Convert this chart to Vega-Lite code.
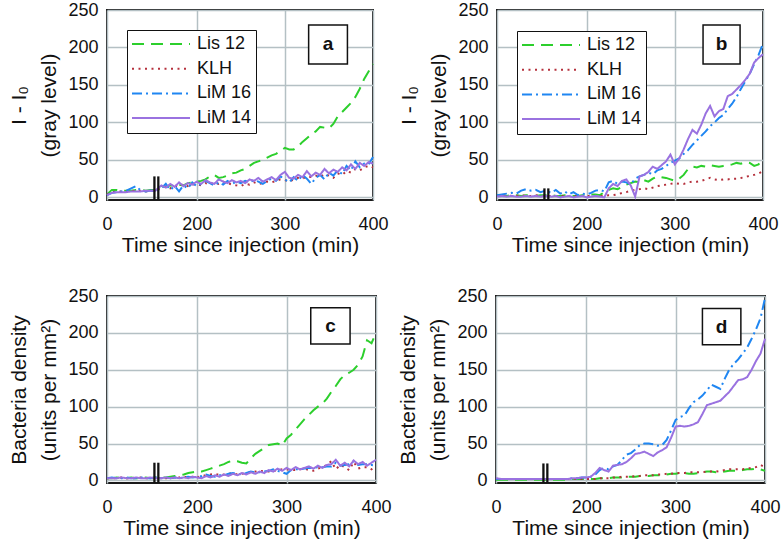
{
  "$schema": "https://vega.github.io/schema/vega-lite/v6.json",
  "padding": {"left": 7, "top": 0, "right": 2, "bottom": 0},
  "background": "white",
  "config": {
    "font": "Liberation Sans",
    "view": {"stroke": "#1a1a1a", "strokeWidth": 2},
    "axis": {"labelFont": "Liberation Sans", "labelFontSize": 18, "labelColor": "#111", "titleFont": "Liberation Sans", "titleFontSize": 21, "titleFontWeight": "normal", "titleColor": "#111", "gridColor": "#b4c0c4", "gridWidth": 1.5, "gridOpacity": 1, "domain": false, "ticks": false, "labelOverlap": false, "labelFlush": false},
    "axisX": {"labelPadding": 15.5, "titlePadding": 1},
    "axisY": {"labelPadding": 9, "titlePadding": 8, "titleLineHeight": 30},
    "legend": {"orient": "none", "legendX": 20, "legendY": 20, "title": null, "strokeColor": "#111", "fillColor": "white", "padding": 4, "labelFont": "Liberation Sans", "labelFontSize": 18, "labelColor": "#111", "symbolSize": 3364, "symbolStrokeWidth": 2, "symbolType": "stroke", "clipHeight": 20, "rowPadding": 4.7, "labelOffset": 6}
  },
  "datasets": {
    "curves": [
      {"p":"a","t":0,"Lis 12":4,"KLH":4,"LiM 16":3,"LiM 14":3},
      {"p":"a","t":15,"Lis 12":10,"KLH":7,"LiM 16":6,"LiM 14":6},
      {"p":"a","t":30,"Lis 12":10,"KLH":8,"LiM 16":7,"LiM 14":7},
      {"p":"a","t":45,"Lis 12":9,"KLH":8,"LiM 16":8,"LiM 14":7},
      {"p":"a","t":60,"Lis 12":9,"KLH":8,"LiM 16":9,"LiM 14":7},
      {"p":"a","t":75,"Lis 12":9,"KLH":9,"LiM 16":12,"LiM 14":8},
      {"p":"a","t":90,"Lis 12":10,"KLH":8,"LiM 16":15,"LiM 14":8},
      {"p":"a","t":105,"Lis 12":10,"KLH":9,"LiM 16":9,"LiM 14":8},
      {"p":"a","t":120,"Lis 12":9,"KLH":8,"LiM 16":8,"LiM 14":9},
      {"p":"a","t":135,"Lis 12":10,"KLH":9,"LiM 16":9,"LiM 14":9},
      {"p":"a","t":150,"Lis 12":10,"KLH":9,"LiM 16":8,"LiM 14":9},
      {"p":"a","t":160,"Lis 12":15,"KLH":13,"LiM 16":12,"LiM 14":16},
      {"p":"a","t":165,"Lis 12":14,"KLH":15,"LiM 16":18,"LiM 14":13},
      {"p":"a","t":170,"Lis 12":16,"KLH":12,"LiM 16":10,"LiM 14":18},
      {"p":"a","t":175,"Lis 12":15,"KLH":16,"LiM 16":15,"LiM 14":14},
      {"p":"a","t":180,"Lis 12":17,"KLH":14,"LiM 16":8,"LiM 14":20},
      {"p":"a","t":185,"Lis 12":16,"KLH":18,"LiM 16":16,"LiM 14":15},
      {"p":"a","t":190,"Lis 12":19,"KLH":15,"LiM 16":12,"LiM 14":19},
      {"p":"a","t":195,"Lis 12":20,"KLH":17,"LiM 16":20,"LiM 14":17},
      {"p":"a","t":200,"Lis 12":21,"KLH":18,"LiM 16":15,"LiM 14":21},
      {"p":"a","t":205,"Lis 12":22,"KLH":16,"LiM 16":18,"LiM 14":18},
      {"p":"a","t":210,"Lis 12":24,"KLH":19,"LiM 16":22,"LiM 14":23},
      {"p":"a","t":215,"Lis 12":28,"KLH":17,"LiM 16":19,"LiM 14":20},
      {"p":"a","t":220,"Lis 12":30,"KLH":20,"LiM 16":16,"LiM 14":18},
      {"p":"a","t":225,"Lis 12":26,"KLH":18,"LiM 16":20,"LiM 14":24},
      {"p":"a","t":230,"Lis 12":27,"KLH":21,"LiM 16":17,"LiM 14":21},
      {"p":"a","t":235,"Lis 12":29,"KLH":19,"LiM 16":22,"LiM 14":19},
      {"p":"a","t":240,"Lis 12":32,"KLH":17,"LiM 16":18,"LiM 14":23},
      {"p":"a","t":245,"Lis 12":33,"KLH":16,"LiM 16":21,"LiM 14":20},
      {"p":"a","t":250,"Lis 12":36,"KLH":15,"LiM 16":19,"LiM 14":22},
      {"p":"a","t":255,"Lis 12":38,"KLH":18,"LiM 16":22,"LiM 14":19},
      {"p":"a","t":260,"Lis 12":42,"KLH":17,"LiM 16":20,"LiM 14":24},
      {"p":"a","t":265,"Lis 12":46,"KLH":20,"LiM 16":23,"LiM 14":22},
      {"p":"a","t":270,"Lis 12":48,"KLH":18,"LiM 16":21,"LiM 14":26},
      {"p":"a","t":275,"Lis 12":50,"KLH":19,"LiM 16":18,"LiM 14":21},
      {"p":"a","t":280,"Lis 12":53,"KLH":21,"LiM 16":22,"LiM 14":24},
      {"p":"a","t":285,"Lis 12":56,"KLH":20,"LiM 16":25,"LiM 14":27},
      {"p":"a","t":290,"Lis 12":58,"KLH":22,"LiM 16":22,"LiM 14":23},
      {"p":"a","t":295,"Lis 12":62,"KLH":24,"LiM 16":28,"LiM 14":30},
      {"p":"a","t":300,"Lis 12":66,"KLH":23,"LiM 16":24,"LiM 14":34},
      {"p":"a","t":305,"Lis 12":64,"KLH":21,"LiM 16":20,"LiM 14":26},
      {"p":"a","t":310,"Lis 12":64,"KLH":24,"LiM 16":27,"LiM 14":25},
      {"p":"a","t":315,"Lis 12":68,"KLH":26,"LiM 16":22,"LiM 14":30},
      {"p":"a","t":320,"Lis 12":74,"KLH":25,"LiM 16":30,"LiM 14":27},
      {"p":"a","t":325,"Lis 12":79,"KLH":28,"LiM 16":25,"LiM 14":35},
      {"p":"a","t":330,"Lis 12":84,"KLH":27,"LiM 16":18,"LiM 14":28},
      {"p":"a","t":335,"Lis 12":88,"KLH":29,"LiM 16":26,"LiM 14":33},
      {"p":"a","t":340,"Lis 12":94,"KLH":27,"LiM 16":30,"LiM 14":30},
      {"p":"a","t":345,"Lis 12":93,"KLH":31,"LiM 16":24,"LiM 14":38},
      {"p":"a","t":350,"Lis 12":92,"KLH":29,"LiM 16":33,"LiM 14":32},
      {"p":"a","t":355,"Lis 12":98,"KLH":26,"LiM 16":29,"LiM 14":37},
      {"p":"a","t":360,"Lis 12":108,"KLH":32,"LiM 16":36,"LiM 14":34},
      {"p":"a","t":365,"Lis 12":114,"KLH":30,"LiM 16":31,"LiM 14":40},
      {"p":"a","t":370,"Lis 12":120,"KLH":35,"LiM 16":42,"LiM 14":36},
      {"p":"a","t":375,"Lis 12":126,"KLH":33,"LiM 16":36,"LiM 14":44},
      {"p":"a","t":380,"Lis 12":134,"KLH":38,"LiM 16":48,"LiM 14":38},
      {"p":"a","t":385,"Lis 12":145,"KLH":36,"LiM 16":40,"LiM 14":46},
      {"p":"a","t":390,"Lis 12":158,"KLH":40,"LiM 16":45,"LiM 14":42},
      {"p":"a","t":395,"Lis 12":168,"KLH":42,"LiM 16":44,"LiM 14":47},
      {"p":"a","t":400,"Lis 12":178,"KLH":40,"LiM 16":54,"LiM 14":45},

      {"p":"b","t":0,"Lis 12":3,"KLH":2,"LiM 16":3,"LiM 14":1},
      {"p":"b","t":15,"Lis 12":3,"KLH":2,"LiM 16":4,"LiM 14":2},
      {"p":"b","t":30,"Lis 12":2,"KLH":3,"LiM 16":5,"LiM 14":1},
      {"p":"b","t":45,"Lis 12":3,"KLH":2,"LiM 16":6,"LiM 14":2},
      {"p":"b","t":60,"Lis 12":3,"KLH":2,"LiM 16":5,"LiM 14":1},
      {"p":"b","t":75,"Lis 12":2,"KLH":3,"LiM 16":9,"LiM 14":1},
      {"p":"b","t":90,"Lis 12":3,"KLH":2,"LiM 16":11,"LiM 14":2},
      {"p":"b","t":105,"Lis 12":3,"KLH":2,"LiM 16":9,"LiM 14":1},
      {"p":"b","t":120,"Lis 12":2,"KLH":3,"LiM 16":10,"LiM 14":2},
      {"p":"b","t":135,"Lis 12":3,"KLH":2,"LiM 16":7,"LiM 14":1},
      {"p":"b","t":150,"Lis 12":3,"KLH":2,"LiM 16":9,"LiM 14":2},
      {"p":"b","t":160,"Lis 12":3,"KLH":2,"LiM 16":6,"LiM 14":1},
      {"p":"b","t":165,"Lis 12":2,"KLH":2,"LiM 16":10,"LiM 14":2},
      {"p":"b","t":170,"Lis 12":2,"KLH":2,"LiM 16":5,"LiM 14":0},
      {"p":"b","t":175,"Lis 12":3,"KLH":2,"LiM 16":8,"LiM 14":1},
      {"p":"b","t":180,"Lis 12":3,"KLH":2,"LiM 16":4,"LiM 14":2},
      {"p":"b","t":185,"Lis 12":2,"KLH":2,"LiM 16":7,"LiM 14":0},
      {"p":"b","t":190,"Lis 12":2,"KLH":2,"LiM 16":3,"LiM 14":1},
      {"p":"b","t":195,"Lis 12":3,"KLH":2,"LiM 16":5,"LiM 14":2},
      {"p":"b","t":200,"Lis 12":3,"KLH":2,"LiM 16":4,"LiM 14":0},
      {"p":"b","t":205,"Lis 12":4,"KLH":2,"LiM 16":6,"LiM 14":1},
      {"p":"b","t":210,"Lis 12":4,"KLH":2,"LiM 16":9,"LiM 14":2},
      {"p":"b","t":215,"Lis 12":3,"KLH":2,"LiM 16":10,"LiM 14":1},
      {"p":"b","t":220,"Lis 12":7,"KLH":2,"LiM 16":8,"LiM 14":0},
      {"p":"b","t":225,"Lis 12":10,"KLH":3,"LiM 16":20,"LiM 14":12},
      {"p":"b","t":230,"Lis 12":12,"KLH":3,"LiM 16":22,"LiM 14":18},
      {"p":"b","t":235,"Lis 12":11,"KLH":4,"LiM 16":18,"LiM 14":15},
      {"p":"b","t":240,"Lis 12":14,"KLH":6,"LiM 16":21,"LiM 14":22},
      {"p":"b","t":245,"Lis 12":17,"KLH":7,"LiM 16":20,"LiM 14":24},
      {"p":"b","t":250,"Lis 12":19,"KLH":9,"LiM 16":17,"LiM 14":16},
      {"p":"b","t":255,"Lis 12":21,"KLH":10,"LiM 16":25,"LiM 14":1},
      {"p":"b","t":260,"Lis 12":20,"KLH":11,"LiM 16":28,"LiM 14":28},
      {"p":"b","t":265,"Lis 12":23,"KLH":12,"LiM 16":30,"LiM 14":30},
      {"p":"b","t":270,"Lis 12":21,"KLH":11,"LiM 16":33,"LiM 14":34},
      {"p":"b","t":275,"Lis 12":25,"KLH":13,"LiM 16":31,"LiM 14":41},
      {"p":"b","t":280,"Lis 12":28,"KLH":15,"LiM 16":36,"LiM 14":38},
      {"p":"b","t":285,"Lis 12":27,"KLH":16,"LiM 16":38,"LiM 14":43},
      {"p":"b","t":290,"Lis 12":26,"KLH":17,"LiM 16":42,"LiM 14":48},
      {"p":"b","t":295,"Lis 12":24,"KLH":18,"LiM 16":46,"LiM 14":57},
      {"p":"b","t":300,"Lis 12":22,"KLH":19,"LiM 16":49,"LiM 14":44},
      {"p":"b","t":305,"Lis 12":25,"KLH":18,"LiM 16":52,"LiM 14":52},
      {"p":"b","t":310,"Lis 12":30,"KLH":18,"LiM 16":58,"LiM 14":64},
      {"p":"b","t":315,"Lis 12":38,"KLH":20,"LiM 16":63,"LiM 14":78},
      {"p":"b","t":320,"Lis 12":41,"KLH":21,"LiM 16":70,"LiM 14":90},
      {"p":"b","t":325,"Lis 12":40,"KLH":21,"LiM 16":76,"LiM 14":85},
      {"p":"b","t":330,"Lis 12":42,"KLH":22,"LiM 16":82,"LiM 14":97},
      {"p":"b","t":335,"Lis 12":41,"KLH":24,"LiM 16":88,"LiM 14":112},
      {"p":"b","t":340,"Lis 12":43,"KLH":26,"LiM 16":95,"LiM 14":122},
      {"p":"b","t":345,"Lis 12":42,"KLH":24,"LiM 16":100,"LiM 14":108},
      {"p":"b","t":350,"Lis 12":41,"KLH":23,"LiM 16":106,"LiM 14":115},
      {"p":"b","t":355,"Lis 12":42,"KLH":24,"LiM 16":110,"LiM 14":118},
      {"p":"b","t":360,"Lis 12":43,"KLH":24,"LiM 16":118,"LiM 14":135},
      {"p":"b","t":365,"Lis 12":44,"KLH":25,"LiM 16":125,"LiM 14":138},
      {"p":"b","t":370,"Lis 12":46,"KLH":25,"LiM 16":134,"LiM 14":144},
      {"p":"b","t":375,"Lis 12":45,"KLH":26,"LiM 16":145,"LiM 14":150},
      {"p":"b","t":380,"Lis 12":47,"KLH":27,"LiM 16":155,"LiM 14":157},
      {"p":"b","t":385,"Lis 12":46,"KLH":29,"LiM 16":165,"LiM 14":165},
      {"p":"b","t":390,"Lis 12":42,"KLH":30,"LiM 16":178,"LiM 14":180},
      {"p":"b","t":395,"Lis 12":44,"KLH":32,"LiM 16":190,"LiM 14":186},
      {"p":"b","t":400,"Lis 12":52,"KLH":35,"LiM 16":205,"LiM 14":191},

      {"p":"c","t":0,"Lis 12":3,"KLH":3,"LiM 16":3,"LiM 14":3},
      {"p":"c","t":15,"Lis 12":3,"KLH":3,"LiM 16":4,"LiM 14":3},
      {"p":"c","t":30,"Lis 12":4,"KLH":3,"LiM 16":3,"LiM 14":3},
      {"p":"c","t":45,"Lis 12":3,"KLH":4,"LiM 16":3,"LiM 14":4},
      {"p":"c","t":60,"Lis 12":3,"KLH":3,"LiM 16":4,"LiM 14":3},
      {"p":"c","t":75,"Lis 12":4,"KLH":3,"LiM 16":3,"LiM 14":3},
      {"p":"c","t":90,"Lis 12":3,"KLH":3,"LiM 16":3,"LiM 14":4},
      {"p":"c","t":105,"Lis 12":3,"KLH":4,"LiM 16":4,"LiM 14":3},
      {"p":"c","t":120,"Lis 12":4,"KLH":3,"LiM 16":3,"LiM 14":3},
      {"p":"c","t":135,"Lis 12":3,"KLH":3,"LiM 16":3,"LiM 14":4},
      {"p":"c","t":150,"Lis 12":4,"KLH":3,"LiM 16":4,"LiM 14":3},
      {"p":"c","t":160,"Lis 12":4,"KLH":3,"LiM 16":3,"LiM 14":3},
      {"p":"c","t":165,"Lis 12":4,"KLH":3,"LiM 16":4,"LiM 14":4},
      {"p":"c","t":170,"Lis 12":5,"KLH":4,"LiM 16":3,"LiM 14":3},
      {"p":"c","t":175,"Lis 12":6,"KLH":3,"LiM 16":4,"LiM 14":4},
      {"p":"c","t":180,"Lis 12":7,"KLH":4,"LiM 16":3,"LiM 14":3},
      {"p":"c","t":185,"Lis 12":8,"KLH":5,"LiM 16":4,"LiM 14":4},
      {"p":"c","t":190,"Lis 12":10,"KLH":4,"LiM 16":5,"LiM 14":3},
      {"p":"c","t":195,"Lis 12":11,"KLH":5,"LiM 16":4,"LiM 14":5},
      {"p":"c","t":200,"Lis 12":12,"KLH":4,"LiM 16":5,"LiM 14":4},
      {"p":"c","t":205,"Lis 12":12,"KLH":6,"LiM 16":6,"LiM 14":3},
      {"p":"c","t":210,"Lis 12":14,"KLH":7,"LiM 16":8,"LiM 14":6},
      {"p":"c","t":215,"Lis 12":16,"KLH":8,"LiM 16":6,"LiM 14":4},
      {"p":"c","t":220,"Lis 12":18,"KLH":9,"LiM 16":5,"LiM 14":7},
      {"p":"c","t":225,"Lis 12":20,"KLH":7,"LiM 16":7,"LiM 14":5},
      {"p":"c","t":230,"Lis 12":22,"KLH":8,"LiM 16":7,"LiM 14":8},
      {"p":"c","t":235,"Lis 12":25,"KLH":9,"LiM 16":9,"LiM 14":6},
      {"p":"c","t":240,"Lis 12":27,"KLH":10,"LiM 16":10,"LiM 14":9},
      {"p":"c","t":245,"Lis 12":26,"KLH":8,"LiM 16":9,"LiM 14":7},
      {"p":"c","t":250,"Lis 12":24,"KLH":9,"LiM 16":8,"LiM 14":10},
      {"p":"c","t":255,"Lis 12":23,"KLH":10,"LiM 16":10,"LiM 14":8},
      {"p":"c","t":260,"Lis 12":30,"KLH":11,"LiM 16":12,"LiM 14":11},
      {"p":"c","t":265,"Lis 12":36,"KLH":12,"LiM 16":11,"LiM 14":9},
      {"p":"c","t":270,"Lis 12":40,"KLH":13,"LiM 16":11,"LiM 14":12},
      {"p":"c","t":275,"Lis 12":44,"KLH":12,"LiM 16":12,"LiM 14":10},
      {"p":"c","t":280,"Lis 12":48,"KLH":12,"LiM 16":13,"LiM 14":14},
      {"p":"c","t":285,"Lis 12":49,"KLH":13,"LiM 16":15,"LiM 14":12},
      {"p":"c","t":290,"Lis 12":50,"KLH":14,"LiM 16":13,"LiM 14":16},
      {"p":"c","t":295,"Lis 12":47,"KLH":15,"LiM 16":11,"LiM 14":13},
      {"p":"c","t":300,"Lis 12":57,"KLH":15,"LiM 16":9,"LiM 14":17},
      {"p":"c","t":305,"Lis 12":62,"KLH":14,"LiM 16":14,"LiM 14":14},
      {"p":"c","t":310,"Lis 12":69,"KLH":14,"LiM 16":15,"LiM 14":18},
      {"p":"c","t":315,"Lis 12":76,"KLH":15,"LiM 16":15,"LiM 14":15},
      {"p":"c","t":320,"Lis 12":83,"KLH":16,"LiM 16":16,"LiM 14":17},
      {"p":"c","t":325,"Lis 12":89,"KLH":14,"LiM 16":17,"LiM 14":19},
      {"p":"c","t":330,"Lis 12":95,"KLH":13,"LiM 16":17,"LiM 14":16},
      {"p":"c","t":335,"Lis 12":100,"KLH":16,"LiM 16":18,"LiM 14":20},
      {"p":"c","t":340,"Lis 12":104,"KLH":18,"LiM 16":18,"LiM 14":17},
      {"p":"c","t":345,"Lis 12":111,"KLH":21,"LiM 16":19,"LiM 14":21},
      {"p":"c","t":350,"Lis 12":120,"KLH":26,"LiM 16":19,"LiM 14":22},
      {"p":"c","t":355,"Lis 12":128,"KLH":15,"LiM 16":24,"LiM 14":28},
      {"p":"c","t":360,"Lis 12":137,"KLH":21,"LiM 16":20,"LiM 14":20},
      {"p":"c","t":365,"Lis 12":143,"KLH":18,"LiM 16":21,"LiM 14":24},
      {"p":"c","t":370,"Lis 12":146,"KLH":14,"LiM 16":22,"LiM 14":19},
      {"p":"c","t":375,"Lis 12":150,"KLH":25,"LiM 16":26,"LiM 14":27},
      {"p":"c","t":380,"Lis 12":157,"KLH":16,"LiM 16":21,"LiM 14":22},
      {"p":"c","t":385,"Lis 12":168,"KLH":18,"LiM 16":22,"LiM 14":25},
      {"p":"c","t":390,"Lis 12":190,"KLH":18,"LiM 16":22,"LiM 14":20},
      {"p":"c","t":395,"Lis 12":186,"KLH":15,"LiM 16":21,"LiM 14":24},
      {"p":"c","t":400,"Lis 12":200,"KLH":19,"LiM 16":20,"LiM 14":28},

      {"p":"d","t":0,"Lis 12":1,"KLH":2,"LiM 16":2,"LiM 14":3},
      {"p":"d","t":15,"Lis 12":1,"KLH":2,"LiM 16":2,"LiM 14":2},
      {"p":"d","t":30,"Lis 12":1,"KLH":2,"LiM 16":2,"LiM 14":2},
      {"p":"d","t":45,"Lis 12":1,"KLH":2,"LiM 16":2,"LiM 14":2},
      {"p":"d","t":60,"Lis 12":1,"KLH":2,"LiM 16":2,"LiM 14":2},
      {"p":"d","t":75,"Lis 12":1,"KLH":2,"LiM 16":2,"LiM 14":2},
      {"p":"d","t":90,"Lis 12":1,"KLH":2,"LiM 16":2,"LiM 14":2},
      {"p":"d","t":105,"Lis 12":1,"KLH":2,"LiM 16":2,"LiM 14":2},
      {"p":"d","t":120,"Lis 12":1,"KLH":2,"LiM 16":2,"LiM 14":2},
      {"p":"d","t":135,"Lis 12":1,"KLH":2,"LiM 16":2,"LiM 14":2},
      {"p":"d","t":150,"Lis 12":1,"KLH":2,"LiM 16":2,"LiM 14":2},
      {"p":"d","t":160,"Lis 12":1,"KLH":2,"LiM 16":2,"LiM 14":2},
      {"p":"d","t":165,"Lis 12":1,"KLH":2,"LiM 16":2,"LiM 14":2},
      {"p":"d","t":170,"Lis 12":1,"KLH":2,"LiM 16":2,"LiM 14":2},
      {"p":"d","t":175,"Lis 12":1,"KLH":2,"LiM 16":2,"LiM 14":2},
      {"p":"d","t":180,"Lis 12":1,"KLH":2,"LiM 16":2,"LiM 14":2},
      {"p":"d","t":185,"Lis 12":2,"KLH":2,"LiM 16":3,"LiM 14":3},
      {"p":"d","t":190,"Lis 12":2,"KLH":2,"LiM 16":3,"LiM 14":3},
      {"p":"d","t":195,"Lis 12":2,"KLH":2,"LiM 16":4,"LiM 14":4},
      {"p":"d","t":200,"Lis 12":2,"KLH":2,"LiM 16":4,"LiM 14":4},
      {"p":"d","t":205,"Lis 12":2,"KLH":2,"LiM 16":5,"LiM 14":5},
      {"p":"d","t":210,"Lis 12":2,"KLH":2,"LiM 16":8,"LiM 14":10},
      {"p":"d","t":215,"Lis 12":3,"KLH":3,"LiM 16":14,"LiM 14":17},
      {"p":"d","t":220,"Lis 12":3,"KLH":3,"LiM 16":17,"LiM 14":14},
      {"p":"d","t":225,"Lis 12":3,"KLH":3,"LiM 16":15,"LiM 14":12},
      {"p":"d","t":230,"Lis 12":4,"KLH":4,"LiM 16":19,"LiM 14":20},
      {"p":"d","t":235,"Lis 12":4,"KLH":4,"LiM 16":21,"LiM 14":21},
      {"p":"d","t":240,"Lis 12":4,"KLH":5,"LiM 16":28,"LiM 14":22},
      {"p":"d","t":245,"Lis 12":5,"KLH":5,"LiM 16":35,"LiM 14":25},
      {"p":"d","t":250,"Lis 12":5,"KLH":5,"LiM 16":37,"LiM 14":30},
      {"p":"d","t":255,"Lis 12":5,"KLH":6,"LiM 16":42,"LiM 14":36},
      {"p":"d","t":260,"Lis 12":6,"KLH":6,"LiM 16":48,"LiM 14":37},
      {"p":"d","t":265,"Lis 12":6,"KLH":7,"LiM 16":50,"LiM 14":39},
      {"p":"d","t":270,"Lis 12":6,"KLH":7,"LiM 16":50,"LiM 14":36},
      {"p":"d","t":275,"Lis 12":7,"KLH":7,"LiM 16":49,"LiM 14":33},
      {"p":"d","t":280,"Lis 12":7,"KLH":8,"LiM 16":47,"LiM 14":38},
      {"p":"d","t":285,"Lis 12":7,"KLH":8,"LiM 16":48,"LiM 14":41},
      {"p":"d","t":290,"Lis 12":8,"KLH":9,"LiM 16":55,"LiM 14":45},
      {"p":"d","t":295,"Lis 12":9,"KLH":9,"LiM 16":68,"LiM 14":58},
      {"p":"d","t":300,"Lis 12":9,"KLH":10,"LiM 16":82,"LiM 14":73},
      {"p":"d","t":305,"Lis 12":10,"KLH":10,"LiM 16":86,"LiM 14":74},
      {"p":"d","t":310,"Lis 12":10,"KLH":10,"LiM 16":88,"LiM 14":73},
      {"p":"d","t":315,"Lis 12":9,"KLH":11,"LiM 16":98,"LiM 14":74},
      {"p":"d","t":320,"Lis 12":9,"KLH":11,"LiM 16":106,"LiM 14":76},
      {"p":"d","t":325,"Lis 12":10,"KLH":11,"LiM 16":110,"LiM 14":79},
      {"p":"d","t":330,"Lis 12":11,"KLH":11,"LiM 16":115,"LiM 14":90},
      {"p":"d","t":335,"Lis 12":12,"KLH":12,"LiM 16":122,"LiM 14":102},
      {"p":"d","t":340,"Lis 12":12,"KLH":12,"LiM 16":130,"LiM 14":104},
      {"p":"d","t":345,"Lis 12":11,"KLH":12,"LiM 16":127,"LiM 14":106},
      {"p":"d","t":350,"Lis 12":11,"KLH":13,"LiM 16":124,"LiM 14":108},
      {"p":"d","t":355,"Lis 12":12,"KLH":14,"LiM 16":138,"LiM 14":114},
      {"p":"d","t":360,"Lis 12":13,"KLH":15,"LiM 16":150,"LiM 14":120},
      {"p":"d","t":365,"Lis 12":13,"KLH":15,"LiM 16":158,"LiM 14":128},
      {"p":"d","t":370,"Lis 12":13,"KLH":15,"LiM 16":164,"LiM 14":136},
      {"p":"d","t":375,"Lis 12":14,"KLH":15,"LiM 16":172,"LiM 14":137},
      {"p":"d","t":380,"Lis 12":15,"KLH":16,"LiM 16":180,"LiM 14":140},
      {"p":"d","t":385,"Lis 12":15,"KLH":17,"LiM 16":192,"LiM 14":150},
      {"p":"d","t":390,"Lis 12":16,"KLH":18,"LiM 16":205,"LiM 14":162},
      {"p":"d","t":395,"Lis 12":15,"KLH":21,"LiM 16":220,"LiM 14":172},
      {"p":"d","t":400,"Lis 12":13,"KLH":18,"LiM 16":247,"LiM 14":192}
    ]
  },
  "vconcat": [
    {
      "hconcat": [
        {
          "width": 266, "height": 190,
          "layer": [
            {
              "data": {"name": "curves"},
              "transform": [{"filter": "datum.p === 'a'"}, {"fold": ["Lis 12", "KLH", "LiM 16", "LiM 14"], "as": ["s", "v"]}],
              "mark": {"type": "line", "strokeWidth": 2},
              "encoding": {
                "x": {"field": "t", "type": "quantitative", "scale": {"domain": [0, 155, 400], "range": [0, 50, 266], "nice": false, "zero": false}, "axis": {"values": [0, 200, 300, 400], "title": "Time since injection (min)"}},
                "y": {"field": "v", "type": "quantitative", "scale": {"domain": [-3.5, 250], "nice": false, "zero": false}, "axis": {"values": [0, 50, 100, 150, 200, 250], "tickCount": 6, "title": ["I - I₀", "(gray level)"]}},
                "color": {"field": "s", "type": "nominal", "scale": {"domain": ["Lis 12", "KLH", "LiM 16", "LiM 14"], "range": ["#2ccf2c", "#b5303c", "#1f86f2", "#9a72e0"]}, "legend": {"legendX": 20, "legendY": 20}},
                "strokeDash": {"field": "s", "type": "nominal", "scale": {"domain": ["Lis 12", "KLH", "LiM 16", "LiM 14"], "range": [[12, 7], [2, 4.5], [10, 4, 2, 4], [1, 0]]}, "legend": {"legendX": 20, "legendY": 20}}
              }
            },
            {"data": {"values": [{}]}, "mark": {"type": "rule", "color": "#111", "strokeWidth": 2.3}, "encoding": {"x": {"datum": 147, "type": "quantitative"}, "y": {"datum": -3.5, "type": "quantitative"}, "y2": {"datum": 28}}},
            {"data": {"values": [{}]}, "mark": {"type": "rule", "color": "#111", "strokeWidth": 2.3}, "encoding": {"x": {"datum": 156.5, "type": "quantitative"}, "y": {"datum": -3.5, "type": "quantitative"}, "y2": {"datum": 28}}},
            {"data": {"values": [{"label": "a"}]}, "mark": {"type": "rect", "fill": "white", "stroke": "#111", "strokeWidth": 1.5}, "encoding": {"x": {"datum": 327, "type": "quantitative"}, "x2": {"datum": 371}, "y": {"datum": 178, "type": "quantitative"}, "y2": {"datum": 230}}},
            {"data": {"values": [{"label": "a"}]}, "mark": {"type": "text", "fontSize": 19, "fontWeight": "bold", "color": "#111"}, "encoding": {"text": {"field": "label"}, "x": {"datum": 349, "type": "quantitative"}, "y": {"datum": 204, "type": "quantitative"}}}
          ],
          "resolve": {"scale": {"color": "independent", "strokeDash": "independent"}}
        },
        {
          "width": 266, "height": 190,
          "layer": [
            {
              "data": {"name": "curves"},
              "transform": [{"filter": "datum.p === 'b'"}, {"fold": ["Lis 12", "KLH", "LiM 16", "LiM 14"], "as": ["s", "v"]}],
              "mark": {"type": "line", "strokeWidth": 2},
              "encoding": {
                "x": {"field": "t", "type": "quantitative", "scale": {"domain": [0, 155, 400], "range": [0, 50, 266], "nice": false, "zero": false}, "axis": {"values": [0, 200, 300, 400], "title": "Time since injection (min)"}},
                "y": {"field": "v", "type": "quantitative", "scale": {"domain": [-3.5, 250], "nice": false, "zero": false}, "axis": {"values": [0, 50, 100, 150, 200, 250], "tickCount": 6, "title": ["I - I₀", "(gray level)"]}},
                "color": {"field": "s", "type": "nominal", "scale": {"domain": ["Lis 12", "KLH", "LiM 16", "LiM 14"], "range": ["#2ccf2c", "#b5303c", "#1f86f2", "#9a72e0"]}, "legend": {"legendX": 20, "legendY": 21}},
                "strokeDash": {"field": "s", "type": "nominal", "scale": {"domain": ["Lis 12", "KLH", "LiM 16", "LiM 14"], "range": [[12, 7], [2, 4.5], [10, 4, 2, 4], [1, 0]]}, "legend": {"legendX": 20, "legendY": 21}}
              }
            },
            {"data": {"values": [{}]}, "mark": {"type": "rule", "color": "#111", "strokeWidth": 2.3}, "encoding": {"x": {"datum": 147, "type": "quantitative"}, "y": {"datum": -3.5, "type": "quantitative"}, "y2": {"datum": 12}}},
            {"data": {"values": [{}]}, "mark": {"type": "rule", "color": "#111", "strokeWidth": 2.3}, "encoding": {"x": {"datum": 156.5, "type": "quantitative"}, "y": {"datum": -3.5, "type": "quantitative"}, "y2": {"datum": 12}}},
            {"data": {"values": [{"label": "b"}]}, "mark": {"type": "rect", "fill": "white", "stroke": "#111", "strokeWidth": 1.5}, "encoding": {"x": {"datum": 332, "type": "quantitative"}, "x2": {"datum": 374}, "y": {"datum": 178, "type": "quantitative"}, "y2": {"datum": 230}}},
            {"data": {"values": [{"label": "b"}]}, "mark": {"type": "text", "fontSize": 19, "fontWeight": "bold", "color": "#111"}, "encoding": {"text": {"field": "label"}, "x": {"datum": 353, "type": "quantitative"}, "y": {"datum": 204, "type": "quantitative"}}}
          ],
          "resolve": {"scale": {"color": "independent", "strokeDash": "independent"}}
        }
      ],
      "spacing": 7,
      "resolve": {"scale": {"color": "independent", "strokeDash": "independent"}, "legend": {"color": "independent", "strokeDash": "independent"}}
    },
    {
      "hconcat": [
        {
          "width": 269, "height": 187,
          "layer": [
            {
              "data": {"name": "curves"},
              "transform": [{"filter": "datum.p === 'c'"}, {"fold": ["Lis 12", "KLH", "LiM 16", "LiM 14"], "as": ["s", "v"]}],
              "mark": {"type": "line", "strokeWidth": 2},
              "encoding": {
                "x": {"field": "t", "type": "quantitative", "scale": {"domain": [0, 155, 400], "range": [0, 50, 269], "nice": false, "zero": false}, "axis": {"values": [0, 200, 300, 400], "title": "Time since injection (min)"}},
                "y": {"field": "v", "type": "quantitative", "scale": {"domain": [-3.5, 250], "nice": false, "zero": false}, "axis": {"values": [0, 50, 100, 150, 200, 250], "tickCount": 6, "title": ["Bacteria density", "(units per mm²)"]}},
                "color": {"field": "s", "type": "nominal", "scale": {"domain": ["Lis 12", "KLH", "LiM 16", "LiM 14"], "range": ["#2ccf2c", "#b5303c", "#1f86f2", "#9a72e0"]}, "legend": null},
                "strokeDash": {"field": "s", "type": "nominal", "scale": {"domain": ["Lis 12", "KLH", "LiM 16", "LiM 14"], "range": [[12, 7], [2, 4.5], [10, 4, 2, 4], [1, 0]]}, "legend": null}
              }
            },
            {"data": {"values": [{}]}, "mark": {"type": "rule", "color": "#111", "strokeWidth": 2.3}, "encoding": {"x": {"datum": 147, "type": "quantitative"}, "y": {"datum": -3.5, "type": "quantitative"}, "y2": {"datum": 24}}},
            {"data": {"values": [{}]}, "mark": {"type": "rule", "color": "#111", "strokeWidth": 2.3}, "encoding": {"x": {"datum": 156.5, "type": "quantitative"}, "y": {"datum": -3.5, "type": "quantitative"}, "y2": {"datum": 24}}},
            {"data": {"values": [{"label": "c"}]}, "mark": {"type": "rect", "fill": "white", "stroke": "#111", "strokeWidth": 1.5}, "encoding": {"x": {"datum": 327, "type": "quantitative"}, "x2": {"datum": 371}, "y": {"datum": 185, "type": "quantitative"}, "y2": {"datum": 234}}},
            {"data": {"values": [{"label": "c"}]}, "mark": {"type": "text", "fontSize": 19, "fontWeight": "bold", "color": "#111"}, "encoding": {"text": {"field": "label"}, "x": {"datum": 349, "type": "quantitative"}, "y": {"datum": 209, "type": "quantitative"}}}
          ],
          "resolve": {"scale": {"color": "independent", "strokeDash": "independent"}}
        },
        {
          "width": 269, "height": 187,
          "layer": [
            {
              "data": {"name": "curves"},
              "transform": [{"filter": "datum.p === 'd'"}, {"fold": ["Lis 12", "KLH", "LiM 16", "LiM 14"], "as": ["s", "v"]}],
              "mark": {"type": "line", "strokeWidth": 2},
              "encoding": {
                "x": {"field": "t", "type": "quantitative", "scale": {"domain": [0, 155, 400], "range": [0, 50, 269], "nice": false, "zero": false}, "axis": {"values": [0, 200, 300, 400], "title": "Time since injection (min)"}},
                "y": {"field": "v", "type": "quantitative", "scale": {"domain": [-3.5, 250], "nice": false, "zero": false}, "axis": {"values": [0, 50, 100, 150, 200, 250], "tickCount": 6, "title": ["Bacteria density", "(units per mm²)"]}},
                "color": {"field": "s", "type": "nominal", "scale": {"domain": ["Lis 12", "KLH", "LiM 16", "LiM 14"], "range": ["#2ccf2c", "#b5303c", "#1f86f2", "#9a72e0"]}, "legend": null},
                "strokeDash": {"field": "s", "type": "nominal", "scale": {"domain": ["Lis 12", "KLH", "LiM 16", "LiM 14"], "range": [[12, 7], [2, 4.5], [10, 4, 2, 4], [1, 0]]}, "legend": null}
              }
            },
            {"data": {"values": [{}]}, "mark": {"type": "rule", "color": "#111", "strokeWidth": 2.3}, "encoding": {"x": {"datum": 147, "type": "quantitative"}, "y": {"datum": -3.5, "type": "quantitative"}, "y2": {"datum": 23}}},
            {"data": {"values": [{}]}, "mark": {"type": "rule", "color": "#111", "strokeWidth": 2.3}, "encoding": {"x": {"datum": 156.5, "type": "quantitative"}, "y": {"datum": -3.5, "type": "quantitative"}, "y2": {"datum": 23}}},
            {"data": {"values": [{"label": "d"}]}, "mark": {"type": "rect", "fill": "white", "stroke": "#111", "strokeWidth": 1.5}, "encoding": {"x": {"datum": 330, "type": "quantitative"}, "x2": {"datum": 373}, "y": {"datum": 184, "type": "quantitative"}, "y2": {"datum": 233}}},
            {"data": {"values": [{"label": "d"}]}, "mark": {"type": "text", "fontSize": 19, "fontWeight": "bold", "color": "#111"}, "encoding": {"text": {"field": "label"}, "x": {"datum": 351.5, "type": "quantitative"}, "y": {"datum": 208, "type": "quantitative"}}}
          ],
          "resolve": {"scale": {"color": "independent", "strokeDash": "independent"}}
        }
      ],
      "spacing": 3,
      "resolve": {"scale": {"color": "independent", "strokeDash": "independent"}, "legend": {"color": "independent", "strokeDash": "independent"}}
    }
  ],
  "spacing": 29,
  "resolve": {"scale": {"color": "independent", "strokeDash": "independent"}, "legend": {"color": "independent", "strokeDash": "independent"}}
}
